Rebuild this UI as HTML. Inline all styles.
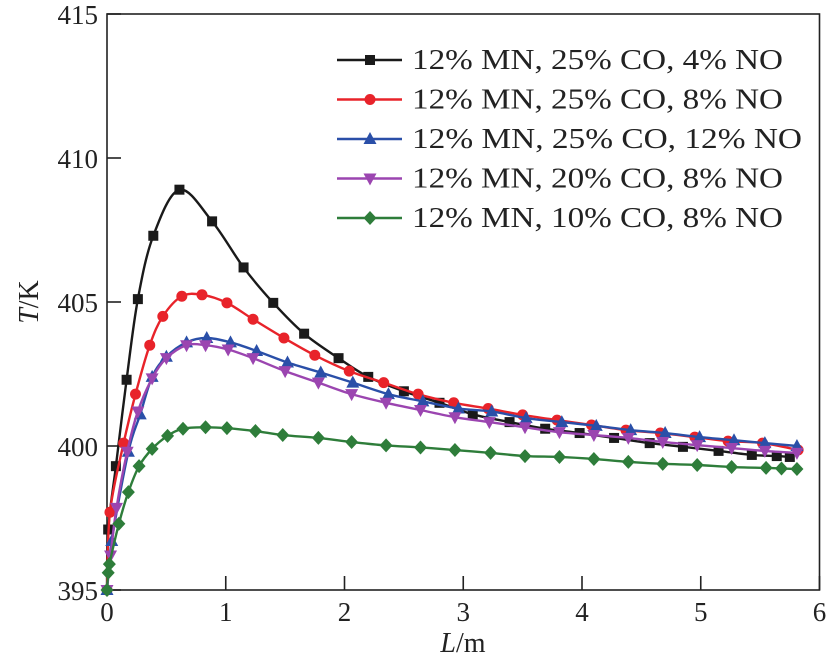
<!DOCTYPE html>
<html><head><meta charset="utf-8"><style>
html,body{margin:0;padding:0;background:#fff;}
svg{display:block;}
svg text{font-family:"Liberation Serif","DejaVu Serif",serif;}
</style></head><body>
<svg id="chart" width="833" height="663" viewBox="0 0 833 663"></svg>
<script>
const xTicks=[0,1,2,3,4,5,6];
const yTicks=[395,400,405,410,415];
const seriesNames=["12% MN, 25% CO, 4% NO","12% MN, 25% CO, 8% NO","12% MN, 25% CO, 12% NO","12% MN, 20% CO, 8% NO","12% MN, 10% CO, 8% NO"];
const blackX=[0,0.01,0.075,0.165,0.26,0.39,0.61,0.885,1.15,1.40,1.66,1.95,2.2,2.5,2.8,3.08,3.39,3.69,3.98,4.27,4.57,4.85,5.15,5.43,5.64,5.75];
const blackY=[395,397.1,399.3,402.3,405.1,407.3,408.9,407.8,406.2,404.97,403.9,403.05,402.4,401.9,401.5,401.1,400.83,400.6,400.45,400.28,400.1,399.97,399.83,399.69,399.65,399.62];
const redX=[0,0.025,0.14,0.24,0.36,0.47,0.63,0.8,1.01,1.23,1.49,1.75,2.04,2.33,2.62,2.92,3.21,3.5,3.79,4.08,4.37,4.66,4.95,5.23,5.52,5.82];
const redY=[395,397.7,400.1,401.8,403.5,404.5,405.2,405.25,404.97,404.4,403.75,403.15,402.6,402.2,401.8,401.5,401.3,401.08,400.9,400.73,400.55,400.45,400.31,400.17,400.1,399.86];
const blueX=[0,0.04,0.18,0.28,0.38,0.5,0.67,0.84,1.04,1.26,1.52,1.8,2.07,2.37,2.66,2.96,3.24,3.53,3.83,4.12,4.41,4.7,4.99,5.28,5.54,5.81];
const blueY=[395,396.7,399.8,401.1,402.4,403.1,403.6,403.75,403.6,403.3,402.9,402.55,402.2,401.8,401.55,401.3,401.2,400.97,400.83,400.7,400.55,400.45,400.31,400.2,400.1,400.0];
const purpleX=[0,0.03,0.08,0.17,0.26,0.38,0.5,0.67,0.83,1.02,1.23,1.5,1.78,2.06,2.35,2.64,2.93,3.22,3.52,3.81,4.1,4.39,4.68,4.97,5.26,5.54,5.81];
const purpleY=[395,396.2,397.85,399.8,401.2,402.35,403.05,403.5,403.5,403.35,403.05,402.6,402.2,401.8,401.5,401.25,401.0,400.83,400.65,400.48,400.38,400.28,400.14,400.03,399.93,399.83,399.76];
const greenX=[0,0.01,0.02,0.1,0.18,0.27,0.38,0.51,0.64,0.83,1.01,1.25,1.48,1.78,2.06,2.35,2.64,2.93,3.23,3.52,3.81,4.1,4.39,4.68,4.97,5.26,5.55,5.68,5.81];
const greenY=[395,395.6,395.9,397.3,398.4,399.3,399.9,400.35,400.6,400.65,400.62,400.52,400.38,400.28,400.14,400.02,399.95,399.86,399.76,399.65,399.62,399.55,399.45,399.38,399.34,399.27,399.24,399.22,399.2];

const X0=107,X1=819.5,Y0=590,Y1=14;
const sx=v=>X0+(v-0)/6*(X1-X0);
const sy=v=>Y0-(v-395)/20*(Y0-Y1);
const svg=document.getElementById('chart');
const NS='http://www.w3.org/2000/svg';
const FF='"Liberation Serif","DejaVu Serif",serif';
function mk(tag,attrs,parent){const e=document.createElementNS(NS,tag);for(const k in attrs)e.setAttribute(k,attrs[k]);(parent||svg).appendChild(e);return e;}

const frame=mk('rect',{x:X0,y:Y1,width:X1-X0,height:Y0-Y1,fill:'none',stroke:'#222','stroke-width':1.6});



xTicks.forEach(t=>{
  const l=mk('line',{x1:sx(t),x2:sx(t),y1:Y0,y2:Y0-14,stroke:'#222','stroke-width':1.6});
  
  
  const tx=mk('text',{x:sx(t),y:Y0+31,'font-size':27,'font-family':FF,'text-anchor':'middle',fill:'#222'});
  tx.textContent=t;
  
  
});
yTicks.forEach(t=>{
  const l=mk('line',{x1:X0,x2:X0+14,y1:sy(t),y2:sy(t),stroke:'#222','stroke-width':1.6});
  
  
  const tx=mk('text',{x:X0-9,y:sy(t)+10,'font-size':27,'font-family':FF,'text-anchor':'end',fill:'#222'});
  tx.textContent=t;
  
  
});
const xt=mk('text',{x:463,y:652,'font-size':28,'font-family':FF,'text-anchor':'middle',fill:'#222'});
xt.innerHTML='<tspan font-style="italic">L</tspan>/m';


const yt=mk('text',{x:38,y:302,'font-size':28,'font-family':FF,'text-anchor':'middle',fill:'#222',transform:'rotate(-90 38 302)'});
yt.innerHTML='<tspan font-style="italic">T</tspan>/K';



function marker(type,x,y,color,g){
  let e;
  if(type==='square') e=mk('rect',{x:x-5,y:y-5,width:10,height:10,fill:color},g);
  else if(type==='circle') e=mk('circle',{cx:x,cy:y,r:5.5,fill:color},g);
  else if(type==='up') e=mk('polygon',{points:`${x},${y-7} ${x-6.5},${y+5} ${x+6.5},${y+5}`,fill:color},g);
  else if(type==='down') e=mk('polygon',{points:`${x},${y+7} ${x-6.5},${y-5} ${x+6.5},${y-5}`,fill:color},g);
  else e=mk('polygon',{points:`${x},${y-7} ${x+6.5},${y} ${x},${y+7} ${x-6.5},${y}`,fill:color},g);
  return e;
}
function smoothPath(p){
  let d='M'+p[0][0]+','+p[0][1];
  for(let i=0;i<p.length-1;i++){
    const p0=p[Math.max(i-1,0)],p1=p[i],p2=p[i+1],p3=p[Math.min(i+2,p.length-1)];
    const c1=[p1[0]+(p2[0]-p0[0])/6,p1[1]+(p2[1]-p0[1])/6];
    const c2=[p2[0]-(p3[0]-p1[0])/6,p2[1]-(p3[1]-p1[1])/6];
    d+=` C${c1[0]},${c1[1]} ${c2[0]},${c2[1]} ${p2[0]},${p2[1]}`;
  }
  return d;
}
const series=[
 {xs:blackX,ys:blackY,c:'#1a1a1a',m:'square',n:'series-4-no'},
 {xs:redX,ys:redY,c:'#e8232a',m:'circle',n:'series-8-no'},
 {xs:blueX,ys:blueY,c:'#2a4fa8',m:'up',n:'series-12-no'},
 {xs:purpleX,ys:purpleY,c:'#9b45b0',m:'down',n:'series-20-co'},
 {xs:greenX,ys:greenY,c:'#2e7d3a',m:'diamond',n:'series-10-co'}
];
const legendW=[371,371,390,371,371];
series.forEach((s,i)=>{
  const g=mk('g',{});
  
  
  const pts=s.xs.map((x,j)=>[sx(x),sy(s.ys[j])]);
  const pl=mk('path',{d:smoothPath(pts),fill:'none',stroke:s.c,'stroke-width':2.4,'stroke-linejoin':'round'},g);
  
  
  s.xs.forEach((x,j)=>{
    const m=marker(s.m,sx(x),sy(s.ys[j]),s.c,g);
    
    
  });
  const ly=60+i*39.5;
  const lg=mk('g',{});
  
  
  mk('line',{x1:337,x2:402,y1:ly,y2:ly,stroke:s.c,'stroke-width':2.4},lg);
  marker(s.m,370,ly,s.c,lg);
  const t=mk('text',{x:412,y:ly+9,'font-size':28,'font-family':FF,fill:'#222',textLength:legendW[i],lengthAdjust:'spacingAndGlyphs'},lg);
  t.textContent=seriesNames[i];
});
</script>
</body></html>
